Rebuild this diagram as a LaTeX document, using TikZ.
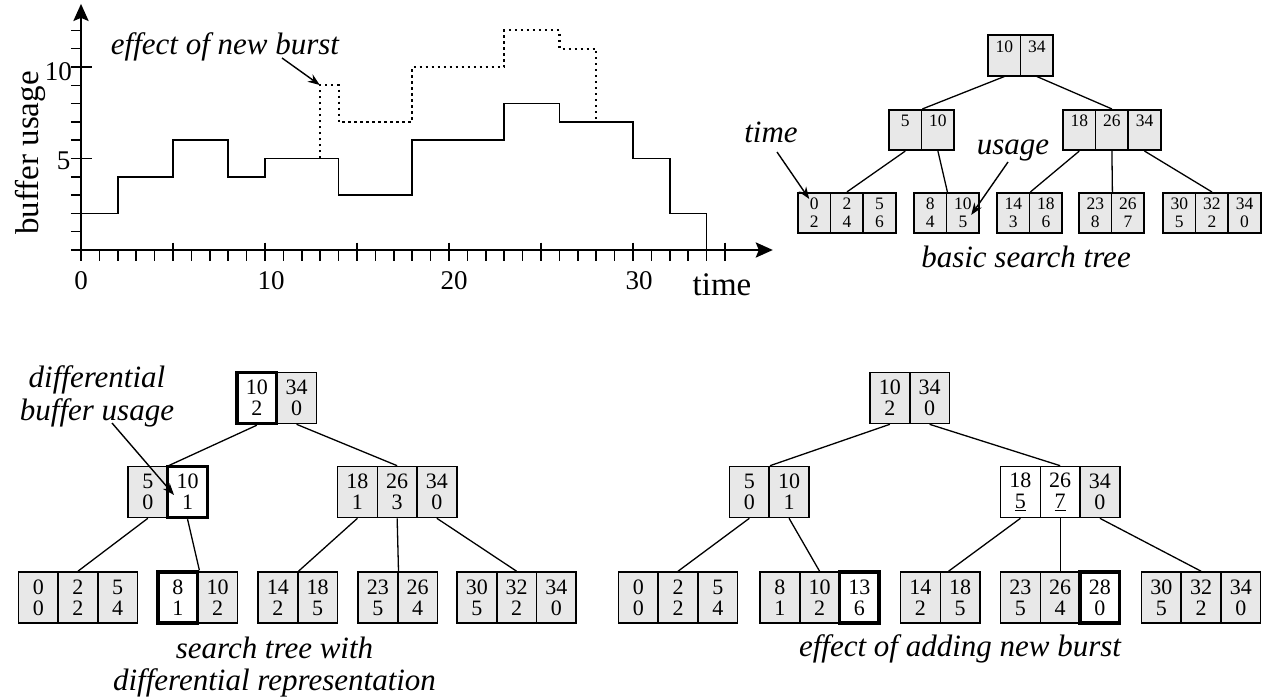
\documentclass[tikz,border=0pt]{standalone}
\usepackage{fontspec}
\setmainfont{Liberation Serif}
\usetikzlibrary{arrows.meta,calc}

\definecolor{cellgray}{RGB}{232,232,232}

\tikzset{
  cell/.style={draw, fill=cellgray, line width=1.6pt, inner sep=0pt, align=center},
  bigcell/.style={cell, minimum width=39.7pt, minimum height=51pt, font=\fontsize{22}{21}\selectfont},
  smallcell/.style={cell, minimum width=32.6pt, minimum height=40.5pt, font=\fontsize{17.5}{18}\selectfont},
  nc/.style={},
  hc/.style={fill=white, line width=3.4pt},
  wc/.style={fill=white},
  branch/.style={line width=1.3pt},
  pointer/.style={line width=1.4pt, -{Stealth[length=12pt,width=9pt]}},
  caption/.style={font=\fontsize{31}{33}\selectfont\itshape, inner sep=0pt},
  axislabel/.style={font=\fontsize{33}{35}\selectfont, inner sep=0pt},
  ticklabel/.style={font=\fontsize{27}{29}\selectfont, inner sep=0pt},
  tick/.style={line width=1.5pt},
  axis/.style={line width=2.8pt, -{Stealth[length=17pt,width=15pt,inset=3pt]}},
  usage/.style={line width=1.7pt},
  burst/.style={line width=2.2pt, dash pattern=on 2.2pt off 3.8pt},
}

% \cellrow{name}{left x}{pitch}{centre y}{cell style}{text/style, ...}
\newcommand\cellrow[6]{%
  \foreach \celltext/\cellsty [count=\k] in {#6}
    \node[#5,\cellsty] (#1-\k) at ({#2+(\k-0.5)*#3},{#4}) {\celltext};%
}

\begin{document}
\begin{tikzpicture}[x=1pt,y=-1pt]
\useasboundingbox (0,0) rectangle (1265,700);

% ---------- buffer usage over time ----------
\begin{scope}[shift={(81,250)}, x=18.4pt, y=18.3pt]
  \foreach \i in {0,...,35} \draw[tick] (\i,0) -- (\i,-0.6);
  \foreach \i in {5,10,...,35} \draw[tick] (\i,0.4) -- (\i,-0.6);
  \foreach \j in {1,...,12} \draw[tick] (-0.55,\j) -- (0,\j);
  \foreach \j in {5,10} \draw[tick] (-0.55,\j) -- (0.6,\j);
  \draw[axis] (-0.55,0) -- (37.6,0);
  \draw[axis] (0,0) -- (0,13.45);
  \draw[usage] (0,2) -| (2,4) -| (5,6) -| (8,4) -| (10,5) -| (14,3) -| (18,6)
    -| (23,8) -| (26,7) -| (30,5) -| (32,2) -| (34,0);
  \draw[burst] (13,5) |- (14,9) |- (18,7) |- (23,10) |- (26,12) |- (28,11) -- (28,7);
  \coordinate (burstpeak) at (13,9);
\end{scope}

\node[axislabel, rotate=90] (ylab) at (30,153) {buffer usage};
\node[axislabel, anchor=base] (xlab) at (722,295) {time};
\node[ticklabel, anchor=base] (x0) at (81,290) {0};
\node[ticklabel, anchor=base] (x10) at (271,290) {10};
\node[ticklabel, anchor=base] (x20) at (454,290) {20};
\node[ticklabel, anchor=base] (x30) at (639,290) {30};
\node[ticklabel, anchor=east] (y5) at (70.5,161) {5};
\node[ticklabel, anchor=east] (y10) at (72,71.5) {10};

\node[caption, anchor=base] (burstlbl) at (225,55) {effect of new burst};
\draw[pointer, shorten >=0.5pt] ([shift={(57,3)}]burstlbl.base) -- (burstpeak);

% ---------- basic search tree ----------
\cellrow{tr-r}{988}{32.6}{55.5}{smallcell}{10\\\phantom{0}/nc, 34\\\phantom{0}/nc}
\cellrow{tr-ml}{889}{32.6}{130}{smallcell}{5\\\phantom{0}/nc, 10\\\phantom{0}/nc}
\cellrow{tr-mr}{1063}{32.6}{130}{smallcell}{18\\\phantom{0}/nc, 26\\\phantom{0}/nc, 34\\\phantom{0}/nc}
\cellrow{tr-l1}{798}{32.6}{213}{smallcell}{0\\2/nc, 2\\4/nc, 5\\6/nc}
\cellrow{tr-l2}{914}{32.6}{213}{smallcell}{8\\4/nc, 10\\5/nc}
\cellrow{tr-l3}{997}{32.6}{213}{smallcell}{14\\3/nc, 18\\6/nc}
\cellrow{tr-l4}{1079}{32.6}{213}{smallcell}{23\\8/nc, 26\\7/nc}
\cellrow{tr-l5}{1163}{32.6}{213}{smallcell}{30\\5/nc, 32\\2/nc, 34\\0/nc}

\draw[branch] (tr-r-1.south) -- (tr-ml-1.north east);
\draw[branch] (tr-r-2.south) -- (tr-mr-2.north);
\draw[branch] (tr-ml-1.south) -- (tr-l1-2.north);
\draw[branch] (tr-ml-2.south) -- (tr-l2-1.north east);
\draw[branch] (tr-mr-1.south) -- (tr-l3-1.north east);
\draw[branch] (tr-mr-2.south) -- (tr-l4-1.north east);
\draw[branch] (tr-mr-3.south) -- (tr-l5-2.north);

\node[caption, anchor=base] (timelbl) at (771,143) {time};
\coordinate (timetip) at ([shift={(12,7)}]tr-l1-1.north west);
\draw[pointer] ([shift={(6,9)}]timelbl.base) -- (timetip);
\node[caption, anchor=base] (usagelbl) at (1013,155) {usage};
\coordinate (usagetip) at ([shift={(25.4,23)}]tr-l2-2.north west);
\draw[pointer] ([shift={(-5,7)}]usagelbl.base) -- (usagetip);
\node[caption, anchor=base] (basiclbl) at (1026,268) {basic search tree};

% ---------- differential representation ----------
\cellrow{bl-r}{237}{39.7}{398}{bigcell}{10\\2/hc, 34\\0/nc}
\cellrow{bl-ml}{128}{39.7}{492}{bigcell}{5\\0/nc, 10\\1/hc}
\cellrow{bl-mr}{337.6}{39.7}{492}{bigcell}{18\\1/nc, 26\\3/nc, 34\\0/nc}
\cellrow{bl-l1}{18.4}{39.7}{597.5}{bigcell}{0\\0/nc, 2\\2/nc, 5\\4/nc}
\cellrow{bl-l2}{158}{39.7}{597.5}{bigcell}{8\\1/hc, 10\\2/nc}
\cellrow{bl-l3}{258}{39.7}{597.5}{bigcell}{14\\2/nc, 18\\5/nc}
\cellrow{bl-l4}{358}{39.7}{597.5}{bigcell}{23\\5/nc, 26\\4/nc}
\cellrow{bl-l5}{457}{39.7}{597.5}{bigcell}{30\\5/nc, 32\\2/nc, 34\\0/nc}

\draw[branch] (bl-r-1.south) -- (bl-ml-1.north east);
\draw[branch] (bl-r-2.south) -- (bl-mr-2.north);
\draw[branch] (bl-ml-1.south) -- (bl-l1-2.north);
\draw[branch] (bl-ml-2.south) -- (bl-l2-1.north east);
\draw[branch] (bl-mr-1.south) -- (bl-l3-1.north east);
\draw[branch] (bl-mr-2.south) -- (bl-l4-1.north east);
\draw[branch] (bl-mr-3.south) -- (bl-l5-2.north);

\node[caption, align=center] (difflbl) at (97,396.5) {differential\\buffer usage};
\coordinate (difftip) at ([shift={(-13.5,3)}]bl-ml-2.center);
\draw[pointer] ([shift={(15,26.5)}]difflbl.center) -- (difftip);
\node[caption, align=center, font=\fontsize{31}{32}\selectfont\itshape] (bllbl) at (274.5,667)
  {search tree with\\differential representation};

% ---------- after adding the burst ----------
\cellrow{br-r}{870}{39.7}{398}{bigcell}{10\\2/nc, 34\\0/nc}
\cellrow{br-ml}{729.5}{39.7}{492}{bigcell}{5\\0/nc, 10\\1/nc}
\cellrow{br-mr}{1000.6}{39.7}{492}{bigcell}{18\\\underline{5}/wc, 26\\\underline{7}/wc, 34\\0/nc}
\cellrow{br-l1}{618.5}{39.7}{597.5}{bigcell}{0\\0/nc, 2\\2/nc, 5\\4/nc}
\cellrow{br-l2}{760}{39.7}{597.5}{bigcell}{8\\1/nc, 10\\2/nc, 13\\6/hc}
\cellrow{br-l3}{900.6}{39.7}{597.5}{bigcell}{14\\2/nc, 18\\5/nc}
\cellrow{br-l4}{1000.6}{39.7}{597.5}{bigcell}{23\\5/nc, 26\\4/nc, 28\\0/hc}
\cellrow{br-l5}{1141.5}{39.7}{597.5}{bigcell}{30\\5/nc, 32\\2/nc, 34\\0/nc}

\draw[branch] (br-r-1.south) -- (br-ml-1.north east);
\draw[branch] (br-r-2.south) -- (br-mr-2.north);
\draw[branch] (br-ml-1.south) -- (br-l1-2.north);
\draw[branch] (br-ml-2.south) -- (br-l2-2.north);
\draw[branch] (br-mr-1.south) -- ($(br-l3-2.north west)!0.22!(br-l3-2.north east)$);
\draw[branch] (br-mr-2.south) -- (br-l4-2.north);
\draw[branch] (br-mr-3.south) -- (br-l5-2.north);

\node[caption, anchor=base] (brlbl) at (960,656) {effect of adding new burst};
\end{tikzpicture}
\end{document}
